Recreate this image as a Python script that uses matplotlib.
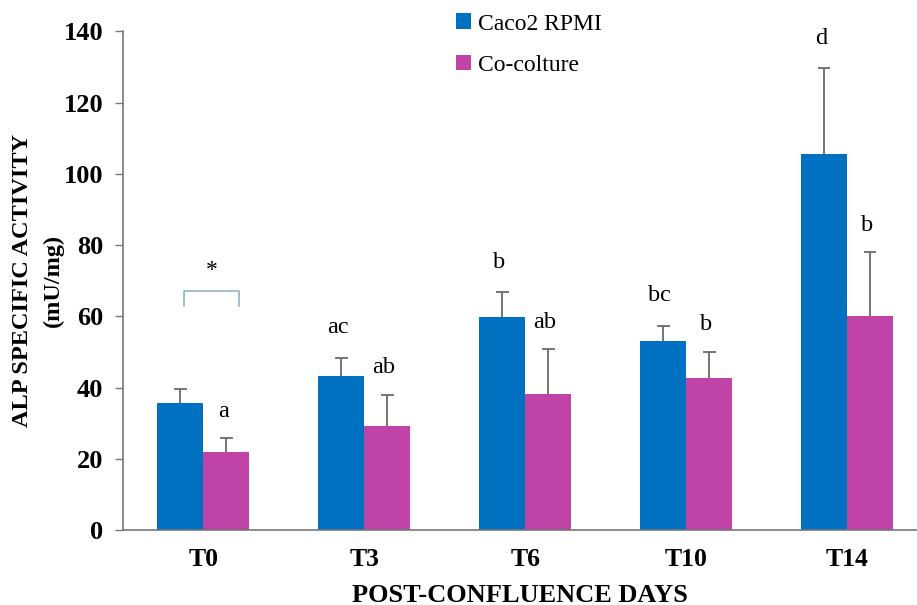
import numpy as np
import matplotlib
matplotlib.use("Agg")
import matplotlib.pyplot as plt

plt.rcParams['font.family'] = ['Liberation Serif', 'DejaVu Serif']

days = ['T0', 'T3', 'T6', 'T10', 'T14']
caco2_mean = [35.6, 43.2, 59.7, 53.0, 105.6]
caco2_err = [4.0, 5.2, 7.0, 4.4, 24.0]
cocult_mean = [22.0, 29.2, 38.3, 42.6, 60.2]
cocult_err = [3.9, 8.8, 12.5, 7.5, 17.8]
caco2_letters = ['', 'ac', 'b', 'bc', 'd']
cocult_letters = ['a', 'ab', 'ab', 'b', 'b']

blue = '#0070C0'
pink = '#C044A8'
err_col = '#6a6a6a'

fig = plt.figure(figsize=(9.17, 6.05), dpi=100)
ax = fig.add_axes([0.134, 0.124, 0.866, 0.824])

x = np.arange(len(days))
w = 0.286
cap = 0.04

ax.bar(x - w/2, caco2_mean, w, color=blue, label='Caco2 RPMI', zorder=2)
ax.bar(x + w/2, cocult_mean, w, color=pink, label='Co-colture', zorder=2)

# upper-only error bars
for xs, m, e in [(x - w/2, caco2_mean, caco2_err), (x + w/2, cocult_mean, cocult_err)]:
    top = np.array(m) + np.array(e)
    ax.vlines(xs, m, top, color=err_col, lw=1.3, zorder=3)
    ax.hlines(top, xs - cap, xs + cap, color=err_col, lw=1.3, zorder=3)

# significance letters above the error bars
for i in range(len(days)):
    if caco2_letters[i]:
        ax.text(x[i] - w/2 - 0.02, caco2_mean[i] + caco2_err[i] + 8.5,
                caco2_letters[i], ha='center', va='center', fontsize=17.5)
    if cocult_letters[i]:
        ax.text(x[i] + w/2 - 0.02, cocult_mean[i] + cocult_err[i] + 7.5,
                cocult_letters[i], ha='center', va='center', fontsize=17.5)

# T0 bracket with asterisk
ax.plot([-0.12, -0.12, 0.22, 0.22], [62.8, 67, 67, 62.8], color='#8fb4c8', lw=1.2)
ax.text(0.05, 73, '*', ha='center', va='center', fontsize=17)

ax.set_xlim(-0.5, 4.435)
ax.set_ylim(0, 140)
ax.set_yticks(np.arange(0, 141, 20))
ax.set_xticks(x)
ax.set_xticklabels(days, fontsize=18.5, fontweight='bold')
for lab in ax.get_yticklabels():
    lab.set_fontsize(19)
    lab.set_fontweight('bold')
ax.tick_params(axis='x', length=0, pad=13)
ax.tick_params(axis='y', length=6, width=1, color='#777777', pad=8)

for s in ['top', 'right']:
    ax.spines[s].set_visible(False)
for s in ['left', 'bottom']:
    ax.spines[s].set_color('#777777')
    ax.spines[s].set_linewidth(1.2)

ax.set_xlabel('POST-CONFLUENCE DAYS', fontsize=19, fontweight='bold', labelpad=9)
fig.text(0.024, 0.537, 'ALP SPECIFIC ACTIVITY', rotation=90, ha='center', va='center',
         fontsize=17.5, fontweight='bold')
fig.text(0.058, 0.537, '(mU/mg)', rotation=90, ha='center', va='center',
         fontsize=17.5, fontweight='bold')

fig.legend(loc='upper left', bbox_to_anchor=(0.478, 1.007), frameon=False,
           fontsize=17, handlelength=0.65, handleheight=0.65, handletextpad=0.3,
           labelspacing=0.85, borderpad=0.25)

fig.savefig('out.png', dpi=100)
